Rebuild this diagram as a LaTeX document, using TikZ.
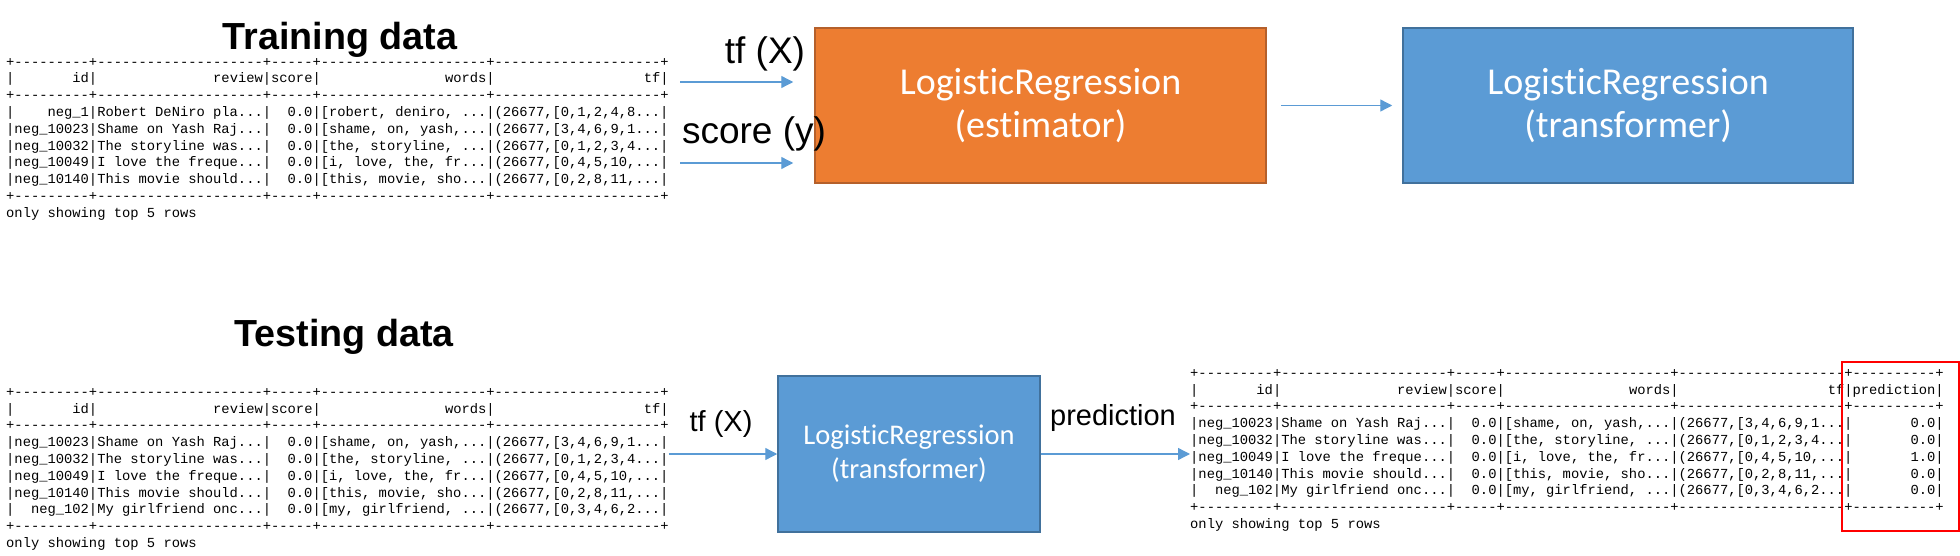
\documentclass[tikz,border=0pt]{standalone}
\usepackage{fontspec}
\setmainfont{Liberation Sans}
\setmonofont{Liberation Mono}
\newfontfamily\boxfont{Carlito}[Ligatures=NoCommon]
\usepackage{tikz}
\usetikzlibrary{arrows.meta}
\definecolor{estorange}{HTML}{ED7D31}
\definecolor{estedge}{HTML}{B5602B}
\definecolor{trblue}{HTML}{5B9BD5}
\definecolor{tredge}{HTML}{41719C}
\definecolor{arrblue}{HTML}{5B9BD5}
\newcommand\dsh[1]{\foreach\k in {1,...,#1}{-}}
\newcommand\tbord{+\dsh{9}+\dsh{20}+\dsh{5}+\dsh{20}+\dsh{20}+}
\newcommand\pbord{\tbord\dsh{10}+}
\newcommand\trow[5]{|\makebox[5.4em][r]{#1}|\makebox[12em][r]{#2}|\makebox[3em][r]{#3}|\makebox[12em][r]{#4}|\makebox[12em][r]{#5}|}
\newcommand\prow[6]{\trow{#1}{#2}{#3}{#4}{#5}\makebox[6em][r]{#6}|}

\begin{document}
\begin{tikzpicture}[x=1pt,y=-1pt,>=stealth,
  tab/.style={font=\fontsize{13.8}{16.8}\selectfont\ttfamily,align=left,inner sep=0pt,anchor=north west},
  title/.style={font=\fontsize{37.7}{45}\selectfont\bfseries,anchor=base},
  lbl/.style={font=\fontsize{37}{44}\selectfont,anchor=base,inner sep=0pt},
  lbls/.style={font=\fontsize{29}{35}\selectfont,anchor=base,inner sep=0pt},
  estbox/.style={draw=estedge,fill=estorange,line width=1.5pt,text=white,align=center,
    minimum width=451pt,minimum height=155pt,font=\boxfont\fontsize{38}{43}\selectfont},
  trbox/.style={draw=tredge,fill=trblue,line width=1.5pt,text=white,align=center},
  arr/.style={draw=arrblue,line width=1.3pt,-{Triangle[length=12pt,width=12pt]}},
  hilite/.style={draw=red,line width=2pt}]
\useasboundingbox (0,0) rectangle (1960,556);

\node[title] (traintitle) at (340,50) {Training data};
\node[tab] (train) at (6,56) {\rule{0pt}{10pt}\tbord\\
  \trow{id}{review}{score}{words}{tf}\\
  \tbord\\
  \trow{neg\_1}{Robert DeNiro pla...}{0.0}{[robert, deniro, ...}{(26677,[0,1,2,4,8...}\\
  \trow{neg\_10023}{Shame on Yash Raj...}{0.0}{[shame, on, yash,...}{(26677,[3,4,6,9,1...}\\
  \trow{neg\_10032}{The storyline was...}{0.0}{[the, storyline, ...}{(26677,[0,1,2,3,4...}\\
  \trow{neg\_10049}{I love the freque...}{0.0}{[i, love, the, fr...}{(26677,[0,4,5,10,...}\\
  \trow{neg\_10140}{This movie should...}{0.0}{[this, movie, sho...}{(26677,[0,2,8,11,...}\\
  \tbord\\
  only showing top 5 rows};

\node[estbox] (est) at (1040.5,105.5) {LogisticRegression\\(estimator)};
\node[trbox,minimum width=450pt,minimum height=155pt,font=\boxfont\fontsize{38}{43}\selectfont]
  (trtop) at (1628,105.5) {LogisticRegression\\(transformer)};

\coordinate (tfin) at (680,82);
\coordinate (yin) at (680,163);
\draw[arr,shorten >=21pt] (tfin) -- (tfin -| est.west);
\draw[arr,shorten >=21pt] (yin) -- (yin -| est.west);
\draw[arr,shorten <=14pt,shorten >=10pt] (est) -- (trtop);
\node[lbl] (tfx) at (765,64) {tf (X)};
\node[lbl] (scy) at (754,144) {score (y)};

\node[title] (testtitle) at (344,346) {Testing data};
\node[tab] (test) at (6,386) {\rule{0pt}{10pt}\tbord\\
  \trow{id}{review}{score}{words}{tf}\\
  \tbord\\
  \trow{neg\_10023}{Shame on Yash Raj...}{0.0}{[shame, on, yash,...}{(26677,[3,4,6,9,1...}\\
  \trow{neg\_10032}{The storyline was...}{0.0}{[the, storyline, ...}{(26677,[0,1,2,3,4...}\\
  \trow{neg\_10049}{I love the freque...}{0.0}{[i, love, the, fr...}{(26677,[0,4,5,10,...}\\
  \trow{neg\_10140}{This movie should...}{0.0}{[this, movie, sho...}{(26677,[0,2,8,11,...}\\
  \trow{neg\_102}{My girlfriend onc...}{0.0}{[my, girlfriend, ...}{(26677,[0,3,4,6,2...}\\
  \tbord\\
  only showing top 5 rows};

\node[trbox,minimum width=262pt,minimum height=156pt,font=\boxfont\fontsize{28.5}{34}\selectfont]
  (trbot) at (909,454) {LogisticRegression\\(transformer)};

\node[tab] (res) at (1190,367) {\rule{0pt}{10pt}\pbord\\
  \prow{id}{review}{score}{words}{tf}{prediction}\\
  \pbord\\
  \prow{neg\_10023}{Shame on Yash Raj...}{0.0}{[shame, on, yash,...}{(26677,[3,4,6,9,1...}{0.0}\\
  \prow{neg\_10032}{The storyline was...}{0.0}{[the, storyline, ...}{(26677,[0,1,2,3,4...}{0.0}\\
  \prow{neg\_10049}{I love the freque...}{0.0}{[i, love, the, fr...}{(26677,[0,4,5,10,...}{1.0}\\
  \prow{neg\_10140}{This movie should...}{0.0}{[this, movie, sho...}{(26677,[0,2,8,11,...}{0.0}\\
  \prow{neg\_102}{My girlfriend onc...}{0.0}{[my, girlfriend, ...}{(26677,[0,3,4,6,2...}{0.0}\\
  \pbord\\
  only showing top 5 rows};

\draw[arr] (trbot.west -| test.east) -- (trbot.west);
\draw[arr] (trbot.east) -- (trbot.east -| res.west);
\node[lbls] (tfx2) at (721,431) {tf (X)};
\node[lbls] (predlbl) at (1113,425) {prediction};

\draw[hilite] (1842,362) rectangle (1958.5,531);
\end{tikzpicture}
\end{document}
